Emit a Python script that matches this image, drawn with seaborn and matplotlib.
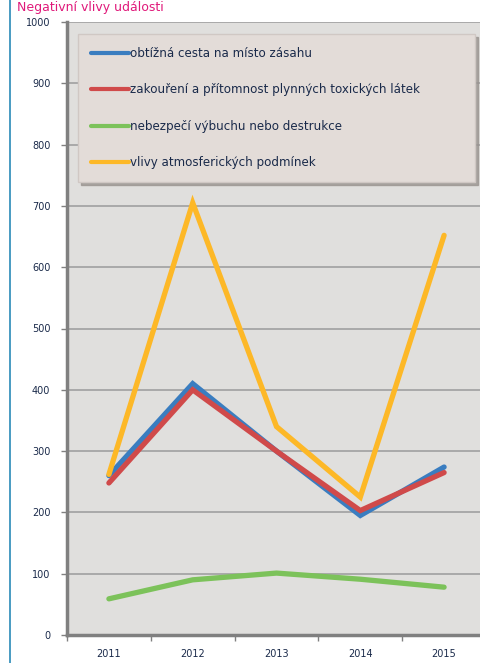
import matplotlib
matplotlib.use("Agg")
import matplotlib.pyplot as plt
import seaborn as sns
import pandas as pd
import numpy as np

years = ["2011", "2012", "2013", "2014", "2015"]
series_names = [
    "obtížná cesta na místo zásahu",
    "zakouření a přítomnost plynných toxických látek",
    "nebezpečí výbuchu nebo destrukce",
    "vlivy atmosferických podmínek",
]
obtizna = [260, 410, 300, 195, 274]
zakoureni = [248, 400, 300, 203, 265]
nebezpeci = [59, 90, 101, 91, 78]
vlivy = [262, 705, 340, 225, 652]
colors = ["#3a7dc0", "#d04a4a", "#7cc25a", "#fdb827"]

rows = []
for name, vals in zip(series_names, [obtizna, zakoureni, nebezpeci, vlivy]):
    for i, (y, v) in enumerate(zip(years, vals)):
        rows.append({"pos": i, "rok": y, "serie": name, "hodnota": v})
df = pd.DataFrame(rows)

sns.set_theme(style="white")
plt.rcParams["font.family"] = ["DejaVu Sans"]

fig = plt.figure(figsize=(4.81, 6.63), dpi=100)
fig.patch.set_facecolor("white")
ax = fig.add_axes([67 / 481, 28 / 663, (486 - 67) / 481, (635 - 22) / 663])
ax.set_facecolor("#e0dfdd")

sns.lineplot(data=df, x="pos", y="hodnota", hue="serie", hue_order=series_names,
             palette=colors, linewidth=3.8, ax=ax, legend=True, sort=False)
for ln in ax.lines:
    ln.set_solid_capstyle("round")
    ln.set_solid_joinstyle("miter")

ax.set_xlim(-0.5, 4.5)
ax.set_ylim(0, 1000)
ax.set_yticks(np.arange(0, 1001, 100))
ax.set_yticklabels([str(v) for v in range(0, 1001, 100)], fontsize=7, color="#1a2a4a")
ax.yaxis.grid(True, color="#a0a0a0", linewidth=1.2)
ax.set_axisbelow(True)
ax.set_xticks(np.arange(-0.5, 5.0, 1.0))
ax.set_xticklabels([])
ax.set_xticks(np.arange(0, 5), minor=True)
ax.set_xticklabels(years, minor=True, fontsize=7, color="#1a2a4a")
ax.tick_params(axis="x", which="minor", length=0, pad=10)
ax.tick_params(axis="x", which="major", length=4, width=1, color="#808080", direction="out", bottom=True)
ax.tick_params(axis="y", length=4, width=1, color="#808080", direction="out", left=True, pad=8)
ax.set_xlabel("")
ax.set_ylabel("")
for s in ["top", "right"]:
    ax.spines[s].set_visible(False)
ax.spines["left"].set_color("#808080")
ax.spines["left"].set_linewidth(2.5)
ax.spines["bottom"].set_color("#808080")
ax.spines["bottom"].set_linewidth(2.5)

handles, labels = ax.get_legend_handles_labels()
leg = ax.legend(handles, labels, loc="upper left",
                bbox_to_anchor=(11 / 419, (635 - 178) / 613, 397 / 419, 1 - 12 / 613 - (635 - 178) / 613),
                mode="expand",
                fontsize=8.6, frameon=True, fancybox=False, shadow={"color": "#9a9490", "alpha": 0.8},
                handlelength=3.2, handletextpad=0.05, labelspacing=1.95,
                borderpad=1.1, borderaxespad=0)
leg.get_frame().set_facecolor("#e3dcd8")
leg.get_frame().set_edgecolor("#d0c8c4")
leg.get_frame().set_alpha(1)
for t in leg.get_texts():
    t.set_color("#1a2a4a")
for h in leg.get_lines():
    h.set_linewidth(3)

fig.text(17 / 481, 1 - 0.5 / 663, "Negativní vlivy události", color="#e0197a",
         fontsize=9, ha="left", va="top")
fig.add_artist(plt.Line2D([10 / 481, 10 / 481], [0, 1], color="#2a8ab8", linewidth=1.2,
                          transform=fig.transFigure))

fig.savefig("out.png", dpi=100)
